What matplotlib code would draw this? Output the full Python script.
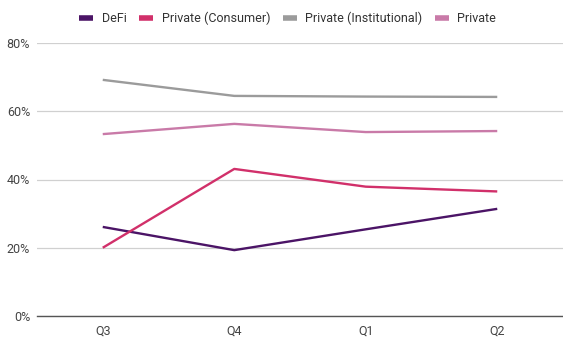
import matplotlib
matplotlib.use("Agg")
import matplotlib.pyplot as plt
from matplotlib.ticker import FuncFormatter

plt.rcParams['font.family'] = ['Roboto', 'DejaVu Sans']

quarters = ["Q3", "Q4", "Q1", "Q2"]
defi = [26.1, 19.3, 25.4, 31.4]
consumer = [20.0, 43.1, 37.9, 36.5]
institutional = [69.2, 64.5, 64.3, 64.2]
private = [53.3, 56.3, 53.9, 54.2]

series = [
    ("DeFi", defi, "#4b1466"),
    ("Private (Consumer)", consumer, "#d1306a"),
    ("Private (Institutional)", institutional, "#9b9b9b"),
    ("Private", private, "#c97aa8"),
]

fig = plt.figure(figsize=(5.63, 3.41), dpi=100)
ax = fig.add_axes([37 / 563, 25 / 341, 526 / 563, 273 / 341])

x = range(len(quarters))
for name, vals, col in series:
    ax.plot(x, vals, color=col, lw=1.7, label=name, solid_capstyle="butt")

ax.set_xlim(-0.5, 3.5)
ax.set_ylim(0, 80)
ax.set_yticks([0, 20, 40, 60, 80])
ax.yaxis.set_major_formatter(FuncFormatter(lambda v, p: f"{v:.0f}%"))
ax.set_xticks(list(x))
ax.set_xticklabels(quarters)
ax.grid(axis="y", color="#d0d0d0", lw=0.9)
ax.set_axisbelow(True)
for s in ["top", "right", "left"]:
    ax.spines[s].set_visible(False)
ax.spines["bottom"].set_color("#555555")
ax.spines["bottom"].set_linewidth(1.0)
ax.tick_params(length=0, labelsize=9, colors="#444444", pad=5)
ax.tick_params(axis="x", pad=6)

leg = ax.legend(loc="upper center", bbox_to_anchor=(0.477, 1.155), ncol=4, frameon=False,
                fontsize=9, handlelength=1.1, handletextpad=0.7, columnspacing=1.0)
for h in leg.get_lines():
    h.set_linewidth(4)
for t in leg.get_texts():
    t.set_color("#333333")

fig.savefig("out.png", dpi=100)
